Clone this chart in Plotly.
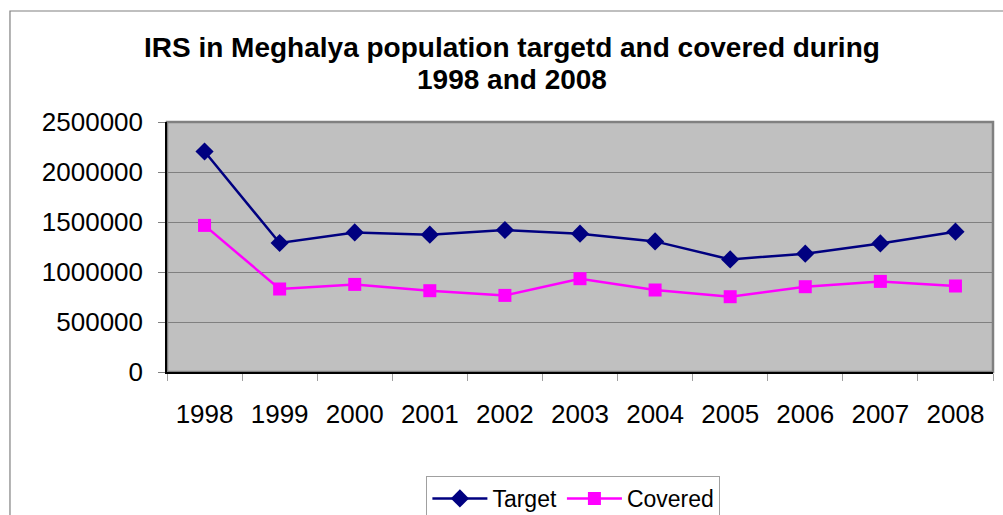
import plotly.graph_objects as go

years = ["1998", "1999", "2000", "2001", "2002", "2003", "2004", "2005", "2006", "2007", "2008"]
target = [2205000, 1290000, 1396000, 1373000, 1420000, 1383000, 1306000, 1126000, 1183000, 1286000, 1403000]
covered = [1466000, 830000, 876000, 813000, 766000, 933000, 820000, 753000, 853000, 906000, 860000]
yticks = [0, 500000, 1000000, 1500000, 2000000, 2500000]
title_lines = ["IRS in Meghalya population targetd and covered during", "1998 and 2008"]

FONT = "Liberation Sans, Arial, sans-serif"

fig = go.Figure()
fig.add_trace(go.Scatter(
    x=years, y=target, name="Target", mode="lines+markers",
    line=dict(color="#000080", width=2.5),
    marker=dict(symbol="diamond", size=14, color="#000080"),
))
fig.add_trace(go.Scatter(
    x=years, y=covered, name="Covered", mode="lines+markers",
    line=dict(color="#FF00FF", width=2.5),
    marker=dict(symbol="square", size=13, color="#FF00FF"),
))

annotations = []
for txt, yp in zip(title_lines, [1.297, 1.169]):
    annotations.append(dict(
        text="<b>" + txt + "</b>", xref="paper", yref="paper", x=0.418, y=yp,
        xanchor="center", yanchor="middle", showarrow=False,
        font=dict(family=FONT, size=28, color="black"),
    ))

fig.update_layout(
    width=1003, height=515,
    margin=dict(l=167, r=10, t=122, b=143, autoexpand=False),
    paper_bgcolor="white", plot_bgcolor="#C0C0C0",
    font=dict(family=FONT, size=26, color="black"),
    annotations=annotations,
    showlegend=True,
    legend=dict(
        orientation="h", x=0.492, xanchor="center", y=-0.416, yanchor="top",
        bgcolor="white", bordercolor="#A0A0A0", borderwidth=1,
        font=dict(family=FONT, size=23, color="black"),
        itemwidth=55, tracegroupgap=0,
    ),
    xaxis=dict(
        type="category", range=[-0.5, len(years) - 0.5],
        tickson="boundaries", ticks="outside", ticklen=7,
        tickcolor="#A0A0A0", showgrid=False, showline=True, linecolor="black",
        linewidth=1.5, ticklabelstandoff=18, zeroline=False,
    ),
    yaxis=dict(
        range=[0, 2500000], tickvals=yticks, ticktext=[str(v) for v in yticks],
        ticks="outside", ticklen=7, tickcolor="#808080",
        showgrid=True, gridcolor="#808080", gridwidth=1,
        showline=True, linecolor="black", linewidth=1.5,
        ticklabelstandoff=10, zeroline=False,
    ),
    shapes=[
        dict(type="rect", xref="paper", yref="paper", x0=0, x1=1, y0=0, y1=1,
             line=dict(color="#808080", width=2.5), layer="below"),
        dict(type="rect", xref="paper", yref="paper", x0=-0.1901, x1=1.024,
             y0=-0.612, y1=1.444, line=dict(color="#808080", width=1.2)),
    ],
)

fig.write_html("out.html", config={"displayModeBar": False},
               post_script="document.body.style.margin='0';document.body.style.overflow='hidden';")
